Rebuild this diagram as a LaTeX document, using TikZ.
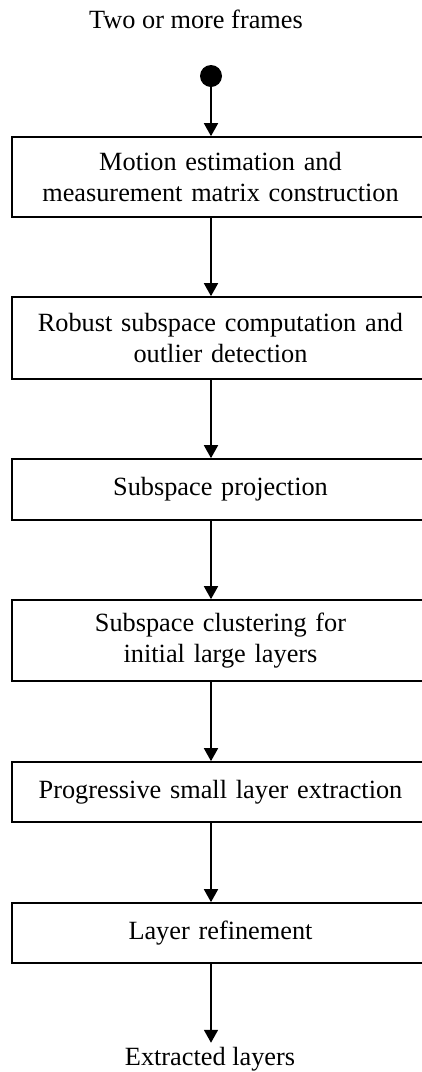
\documentclass[tikz,border=0pt]{standalone}
\usepackage{fontspec}
\setmainfont{Liberation Serif}
\usetikzlibrary{arrows.meta}
\begin{document}
\begin{tikzpicture}[x=1pt,y=1pt,
  font=\fontsize{26.3pt}{31.5pt}\selectfont,
  stepbox/.style={draw=black, line width=1.7pt, minimum width=417pt, inner sep=0pt, align=center, text width=410pt},
  flow/.style={line width=1.8pt, -{Triangle[length=13pt,width=14pt]}},
  lbl/.style={inner sep=0pt, anchor=base}]
\useasboundingbox (0,0) rectangle (422,-1072);
\clip (0,0) rectangle (422,-1072);
\node[lbl] (title) at (196,-28) {Two or more frames};
\node[circle, fill=black, minimum size=22pt, inner sep=0pt] (dot) at (211,-76) {};
\node[stepbox, minimum height=80pt] (b1) at (220.5,-177) {Motion estimation and\\measurement matrix construction};
\node[stepbox, minimum height=82pt] (b2) at (220.5,-338) {Robust subspace computation and\\outlier detection};
\node[stepbox, minimum height=61pt] (b3) at (220.5,-489.5) {Subspace projection};
\node[stepbox, minimum height=81pt] (b4) at (220.5,-640.5) {Subspace clustering for\\initial large layers};
\node[stepbox, minimum height=60pt] (b5) at (220.5,-792) {Progressive small layer extraction};
\node[stepbox, minimum height=60pt] (b6) at (220.5,-933) {Layer refinement};
\node[lbl, outer ysep=4pt] (ext) at (210,-1065) {Extracted layers};
\draw[flow] (dot.south) -- (b1.north -| dot);
\draw[flow] (b1.south -| dot) -- (b2.north -| dot);
\draw[flow] (b2.south -| dot) -- (b3.north -| dot);
\draw[flow] (b3.south -| dot) -- (b4.north -| dot);
\draw[flow] (b4.south -| dot) -- (b5.north -| dot);
\draw[flow] (b5.south -| dot) -- (b6.north -| dot);
\draw[flow] (b6.south -| dot) -- (ext.north -| dot);
\end{tikzpicture}
\end{document}
